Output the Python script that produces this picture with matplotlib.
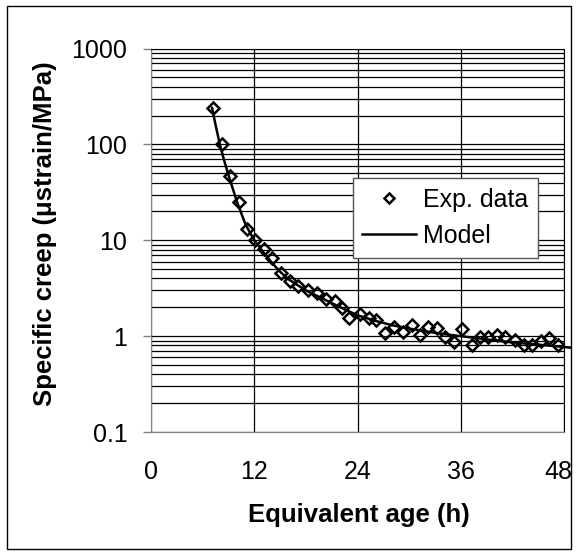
import matplotlib
matplotlib.use("Agg")
import matplotlib.pyplot as plt
import matplotlib.transforms as mtransforms
from matplotlib.patches import Rectangle
from matplotlib.ticker import LogLocator, FixedLocator, NullFormatter

plt.rcParams['font.family'] = ['Liberation Sans', 'DejaVu Sans']

# experimental points (equivalent age in h, specific creep in ustrain/MPa)
exp_age = [7.2, 8.2, 9.2, 10.2, 11.2, 12.1, 13.1, 14.1, 15.1, 16.2,
           17.1, 18.2, 19.3, 20.3, 21.4, 22.2, 23.0, 24.3, 25.3, 26.2,
           27.2, 28.2, 29.3, 30.3, 31.3, 32.2, 33.2, 34.2, 35.2, 36.2,
           37.3, 38.2, 39.2, 40.2, 41.2, 42.3, 43.3, 44.3, 45.3, 46.3, 47.3]
exp_creep = [240, 100, 47, 25, 13, 10.1, 8.1, 6.5, 4.5, 3.8,
             3.3, 3.0, 2.8, 2.45, 2.3, 1.95, 1.55, 1.7, 1.55, 1.47,
             1.08, 1.26, 1.11, 1.31, 1.03, 1.26, 1.21, 0.99, 0.86, 1.18,
             0.81, 0.97, 0.99, 1.03, 0.99, 0.91, 0.81, 0.81, 0.88, 0.96, 0.81]

# model curve
model_age = [7.1, 7.5, 8, 8.5, 9, 10, 11, 12, 13, 14, 15, 16, 18, 20, 22,
             24, 26, 28, 30, 32, 34, 36, 38, 40, 42, 44, 46, 48, 48.7]
model_creep = [240, 160, 100, 68, 48, 25, 14.5, 10, 7.6, 5.9, 4.7, 3.9, 3.0,
               2.45, 2.0, 1.65, 1.45, 1.3, 1.2, 1.12, 1.05, 1.0, 0.95, 0.9,
               0.86, 0.83, 0.8, 0.77, 0.76]

fig = plt.figure(figsize=(5.77, 5.55), dpi=100)
ax = fig.add_axes([151/577, 1 - 432/555, 413/577, 383.5/555])

ax.plot(model_age, model_creep, color='black', lw=1.8, label='Model',
        zorder=3, clip_on=False)
ax.plot(exp_age, exp_creep, ls='none', marker='D', ms=6.2, mew=1.8,
        mfc='none', mec='black', label='Exp. data', zorder=4)

ax.set_yscale('log')
ax.set_ylim(0.1, 1000)
ax.set_xlim(0, 48)
ax.xaxis.set_major_locator(FixedLocator([0, 12, 24, 36, 48]))
ax.yaxis.set_major_locator(FixedLocator([0.1, 1, 10, 100, 1000]))
ax.yaxis.set_major_formatter(plt.FuncFormatter(lambda v, p: f'{v:g}'))
ax.yaxis.set_minor_locator(LogLocator(base=10, subs=range(2, 10)))
ax.yaxis.set_minor_formatter(NullFormatter())

ax.grid(True, which='both', axis='y', color='black', lw=0.9)
ax.grid(True, which='major', axis='x', color='black', lw=0.9)
ax.set_axisbelow(True)

ax.tick_params(axis='y', which='major', length=6, width=1, color='#808080',
               pad=11, labelsize=18)
ax.tick_params(axis='y', which='minor', length=0)
ax.tick_params(axis='x', length=0, pad=20, labelsize=18)

# keep the last x label inside the frame, like the original
fig.canvas.draw()
last = ax.get_xticklabels()[-1]
last.set_transform(last.get_transform() +
                   mtransforms.ScaledTranslation(-6/100, 0, fig.dpi_scale_trans))

for s in ['left', 'bottom']:
    ax.spines[s].set_color('#808080')
for s in ['top', 'right']:
    ax.spines[s].set_color('black')

fig.text(45/577, 1 - 234/555, 'Specific creep (\u03bcstrain/MPa)', rotation=90,
         ha='center', va='center', fontsize=18.5, fontweight='bold')
fig.text(359/577, 1 - 515/555, 'Equivalent age (h)', ha='center', va='center',
         fontsize=18.5, fontweight='bold')

handles, labels = ax.get_legend_handles_labels()
leg = ax.legend(handles[::-1], labels[::-1], loc='upper left',
                bbox_to_anchor=(0.489, 0.662), fontsize=18, frameon=True,
                fancybox=False, edgecolor='#555555', framealpha=1,
                handlelength=2.15, handletextpad=0.28, borderpad=0.38,
                labelspacing=0.5, borderaxespad=0, markerscale=0.85)
leg.get_frame().set_linewidth(1)

fig.patches.append(Rectangle((7/577, 6/555), 564/577, 543/555, fill=False,
                             edgecolor='black', lw=1, transform=fig.transFigure))

fig.savefig('out.png', dpi=100)
